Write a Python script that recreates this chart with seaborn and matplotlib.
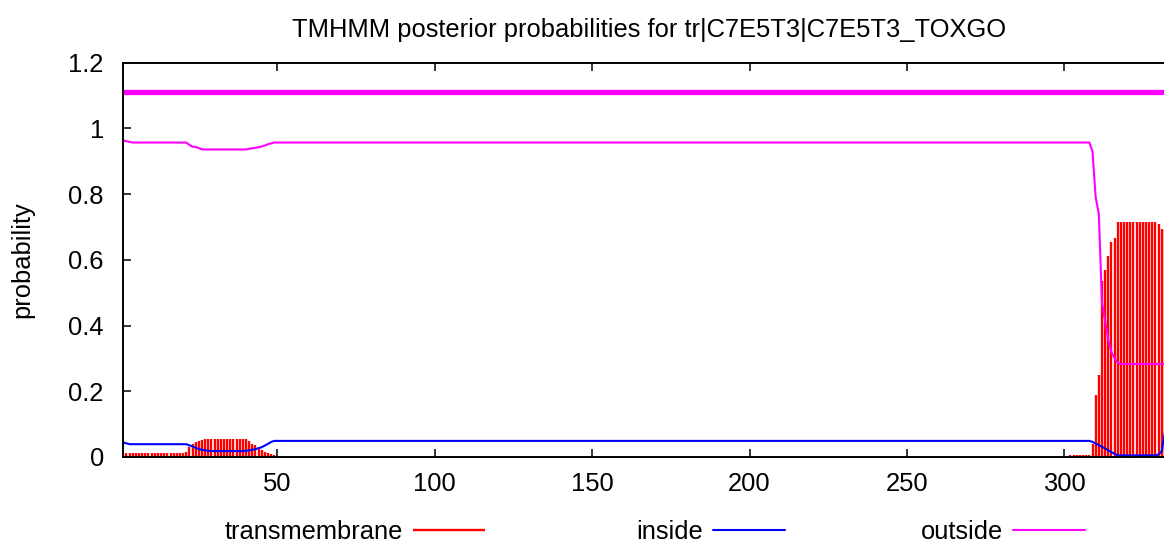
import numpy as np
import pandas as pd
import matplotlib
matplotlib.use("Agg")
import matplotlib.pyplot as plt
import seaborn as sns

# ---------------- data ----------------
seq_len = 332
residues = list(range(1, seq_len + 1))

# transmembrane posterior probability, one value per residue
tm_prob = (
    [0.006]
    + [0.011] * 19
    + [0.015, 0.031, 0.041, 0.046, 0.050, 0.052]
    + [0.054] * 14
    + [0.050, 0.041, 0.036, 0.028, 0.021, 0.016, 0.011, 0.008, 0.006, 0.004, 0.002]
    + [0.0] * 250
    + [0.006] * 7
    + [0.040, 0.190, 0.250, 0.536, 0.568, 0.611, 0.654, 0.668]
    + [0.715] * 13
    + [0.710, 0.695, 0.690]
)

# inside probability (points where the curve changes)
inside_x = [1, 3, 21, 23, 25, 27, 29, 39, 41, 43, 45, 47, 48, 49,
            308, 309, 310, 311, 312, 313, 314, 315, 316, 317, 329, 330, 331, 332]
inside_y = [0.044, 0.039, 0.039, 0.032, 0.024, 0.020, 0.018, 0.018, 0.020, 0.024,
            0.030, 0.040, 0.046, 0.049,
            0.049, 0.046, 0.041, 0.036, 0.031, 0.026, 0.020, 0.015, 0.010, 0.005,
            0.005, 0.008, 0.018, 0.075]

# outside probability (points where the curve changes)
outside_x = [1, 4, 21, 22, 23, 24, 25, 26, 40, 41, 43, 45, 46, 47, 49,
             308, 309, 310, 311, 312, 313, 314, 315, 316, 317, 318, 332]
outside_y = [0.963, 0.957, 0.957, 0.950, 0.944, 0.944, 0.940, 0.936, 0.936, 0.938,
             0.941, 0.945, 0.948, 0.952, 0.957,
             0.957, 0.930, 0.790, 0.740, 0.470, 0.415, 0.356, 0.320, 0.300, 0.287,
             0.283, 0.283]

# predicted topology bar (whole sequence outside)
topo_x = [1, 332]
topo_y = [1.11, 1.11]

title = "TMHMM posterior probabilities for tr|C7E5T3|C7E5T3_TOXGO"
ylabel = "probability"
yticks = [0, 0.2, 0.4, 0.6, 0.8, 1.0, 1.2]
ytick_labels = ["0", "0.2", "0.4", "0.6", "0.8", "1", "1.2"]
xticks = [50, 100, 150, 200, 250, 300]
xtick_labels = ["50", "100", "150", "200", "250", "300"]
legend_labels = ["transmembrane", "inside", "outside"]

RED = "#ff0000"
BLUE = "#0000ff"
MAGENTA = "#ff00ff"

# ---------------- plotting ----------------
sns.set_theme(style="white")
plt.rcParams["font.family"] = ["Liberation Sans", "DejaVu Sans"]
plt.rcParams["text.color"] = "black"
plt.rcParams["xtick.color"] = "black"
plt.rcParams["ytick.color"] = "black"
plt.rcParams["axes.labelcolor"] = "black"
FS = 18.4

W, H = 1164, 544
fig = plt.figure(figsize=(W / 100, H / 100), dpi=100)
left_px, right_px, top_px, bottom_px = 123.3, 1164.9, 62.7, 457.0
ax = fig.add_axes([left_px / W, 1 - bottom_px / H,
                   (right_px - left_px) / W, (bottom_px - top_px) / H])

df_tm = pd.DataFrame({"residue": residues, "prob": tm_prob})
tm_art = ax.vlines(df_tm["residue"], 0, df_tm["prob"], color=RED, linewidth=1.7)

sns.lineplot(x=inside_x, y=inside_y, ax=ax, color=BLUE, linewidth=1.5,
             estimator=None, sort=False)
in_art = ax.lines[-1]
sns.lineplot(x=outside_x, y=outside_y, ax=ax, color=MAGENTA, linewidth=1.5,
             estimator=None, sort=False)
out_art = ax.lines[-1]
sns.lineplot(x=topo_x, y=topo_y, ax=ax, color=MAGENTA, linewidth=3.8,
             estimator=None, sort=False)

ax.set_xlim(1, seq_len)
ax.set_ylim(0, 1.2)
ax.set_xticks(xticks)
ax.set_xticklabels(xtick_labels)
ax.set_yticks(yticks)
ax.set_yticklabels(ytick_labels)
ax.set_xlabel("")
ax.set_ylabel("")

for s in ["left", "top", "bottom"]:
    ax.spines[s].set_visible(True)
    ax.spines[s].set_color("black")
    ax.spines[s].set_linewidth(1.4)
ax.spines["right"].set_visible(False)

ax.tick_params(axis="both", direction="in", length=5.8, width=1.1,
               colors="black", labelcolor="black", labelsize=FS)
ax.tick_params(axis="x", top=True, bottom=True, pad=11)
ax.tick_params(axis="y", left=True, right=False, pad=14)
ax.grid(False)

fig.text(649.5 / W, 1 - 30 / H, title, ha="center", va="center",
         fontsize=FS, color="black")
fig.text(22 / W, 1 - 260 / H, ylabel, ha="center", va="center",
         rotation=90, fontsize=FS, color="black")

leg_y = 1 - 532 / H
for art, lab, xend in zip([tm_art, in_art, out_art], legend_labels,
                          [485, 785, 1085]):
    lg = fig.legend([art], [lab], loc="center right",
                    bbox_to_anchor=(xend / W, leg_y), frameon=False,
                    borderpad=0, borderaxespad=0, handlelength=2.8,
                    handletextpad=0.4, markerfirst=False, fontsize=FS)
    for t in lg.get_texts():
        t.set_color("black")

fig.savefig("out.png", dpi=100)
